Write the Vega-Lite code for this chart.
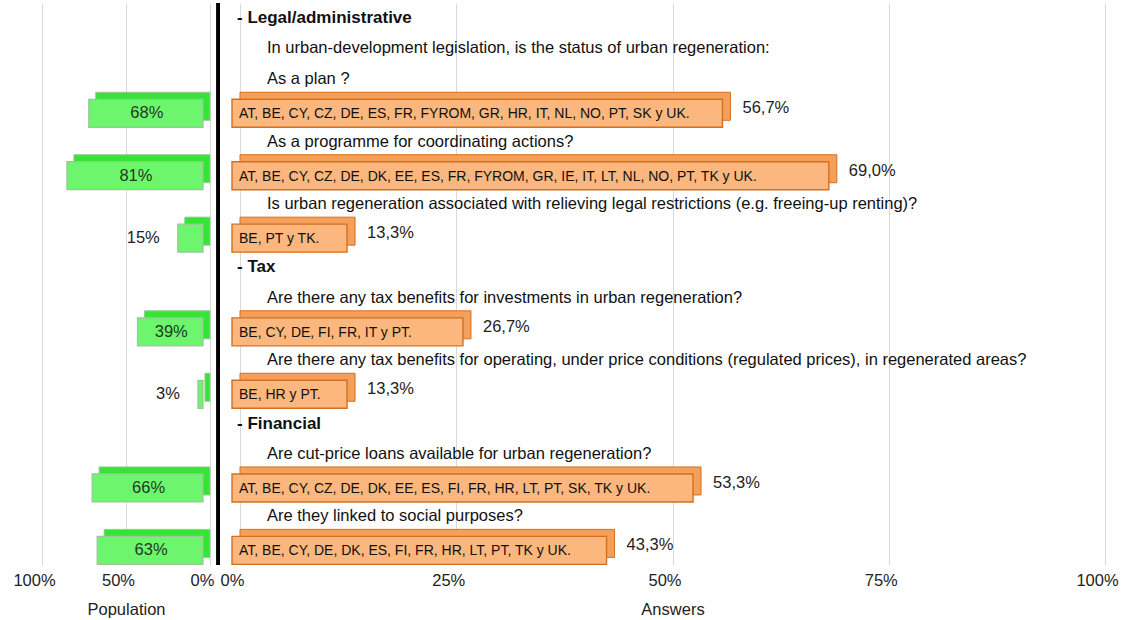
{
  "$schema": "https://vega.github.io/schema/vega-lite/v6.json",
  "background": "#ffffff",
  "padding": {"left": 12, "top": 1, "right": 5, "bottom": 5},
  "bounds": "flush",
  "config": {
    "view": {"stroke": null},
    "font": "Liberation Sans",
    "axis": {
      "domain": false,
      "ticks": false,
      "labelFlush": false,
      "labelFontSize": 16.5,
      "labelColor": "#222222",
      "labelPadding": 7,
      "titleFontSize": 16.5,
      "titleFontWeight": "normal",
      "titleColor": "#222222",
      "titlePadding": 13,
      "gridColor": "#d9d9d9",
      "gridWidth": 1
    }
  },
  "data": {
    "values": [
      {"row": 1, "kind": "header", "text": "- Legal/administrative"},
      {"row": 2, "kind": "question", "text": "In urban-development legislation, is the status of urban regeneration:"},
      {"row": 3, "kind": "question", "text": "As a plan ?"},
      {"row": 4, "kind": "bar", "pop": 68, "pop_label": "68%", "ans": 56.7, "ans_label": "56,7%", "countries": "AT, BE, CY, CZ, DE, ES, FR, FYROM, GR, HR, IT, NL, NO, PT, SK y UK."},
      {"row": 5, "kind": "question", "text": "As a programme for coordinating actions?"},
      {"row": 6, "kind": "bar", "pop": 81, "pop_label": "81%", "ans": 69.0, "ans_label": "69,0%", "countries": "AT, BE, CY, CZ, DE, DK, EE, ES, FR, FYROM, GR, IE, IT, LT, NL, NO, PT, TK y UK."},
      {"row": 7, "kind": "question", "text": "Is urban regeneration associated with relieving legal restrictions (e.g. freeing-up renting)?"},
      {"row": 8, "kind": "bar", "pop": 15, "pop_label": "15%", "ans": 13.3, "ans_label": "13,3%", "countries": "BE, PT y TK."},
      {"row": 9, "kind": "header", "text": "- Tax"},
      {"row": 10, "kind": "question", "text": "Are there any tax benefits for investments in urban regeneration?"},
      {"row": 11, "kind": "bar", "pop": 39, "pop_label": "39%", "ans": 26.7, "ans_label": "26,7%", "countries": "BE, CY, DE, FI, FR, IT y PT."},
      {"row": 12, "kind": "question", "text": "Are there any tax benefits for operating, under price conditions (regulated prices), in regenerated areas?"},
      {"row": 13, "kind": "bar", "pop": 3, "pop_label": "3%", "ans": 13.3, "ans_label": "13,3%", "countries": "BE, HR y PT."},
      {"row": 14, "kind": "header", "text": "- Financial"},
      {"row": 15, "kind": "question", "text": "Are cut-price loans available for urban regeneration?"},
      {"row": 16, "kind": "bar", "pop": 66, "pop_label": "66%", "ans": 53.3, "ans_label": "53,3%", "countries": "AT, BE, CY, CZ, DE, DK, EE, ES, FI, FR, HR, LT, PT, SK, TK y UK."},
      {"row": 17, "kind": "question", "text": "Are they linked to social purposes?"},
      {"row": 18, "kind": "bar", "pop": 63, "pop_label": "63%", "ans": 43.3, "ans_label": "43,3%", "countries": "AT, BE, CY, DE, DK, ES, FI, FR, HR, LT, PT, TK y UK."}
    ]
  },
  "spacing": 30,
  "hconcat": [
    {
      "width": 168,
      "height": 562,
      "resolve": {"scale": {"x": "independent"}},
      "layer": [
        {
          "transform": [{"filter": "datum.kind === 'bar'"}],
          "mark": {"type": "bar", "height": 28, "yOffset": -6, "y2Offset": -6, "color": "#36e436", "stroke": "#9cc49c", "strokeWidth": 1},
          "encoding": {
            "y": {"field": "row", "type": "ordinal", "scale": {"domain": [1,2,3,4,5,6,7,8,9,10,11,12,13,14,15,16,17,18], "paddingInner": 0, "paddingOuter": 0}, "axis": null},
            "x": {"field": "pop", "type": "quantitative", "scale": {"domain": [0, 100], "reverse": true},
                  "axis": {"values": [0, 50, 100], "grid": true, "labelExpr": "datum.value + '%'", "labelOffset": -8, "title": "Population"}},
            "x2": {"datum": 0}
          }
        },
        {
          "transform": [{"filter": "datum.kind === 'bar'"}],
          "mark": {"type": "bar", "height": 28, "xOffset": -7, "x2Offset": -7, "yOffset": 1, "y2Offset": 1, "color": "#6ef56e", "stroke": "#9cc49c", "strokeWidth": 1.2},
          "encoding": {
            "y": {"field": "row", "type": "ordinal"},
            "x": {"field": "pop", "type": "quantitative", "scale": {"domain": [0, 100], "reverse": true}, "axis": null},
            "x2": {"datum": 0}
          }
        },
        {
          "transform": [{"filter": "datum.kind === 'bar' && datum.pop >= 20"}],
          "mark": {"type": "text", "align": "center", "baseline": "middle", "fontSize": 16.5, "color": "#1e3a1e", "dx": -6, "dy": 1},
          "encoding": {
            "y": {"field": "row", "type": "ordinal"},
            "x": {"field": "pop", "type": "quantitative", "scale": {"domain": [0, 200], "reverse": true}, "axis": null},
            "text": {"field": "pop_label"}
          }
        },
        {
          "transform": [{"filter": "datum.kind === 'bar' && datum.pop < 20"}],
          "mark": {"type": "text", "align": "right", "baseline": "middle", "fontSize": 16.5, "color": "#222222", "dx": -25, "dy": 1},
          "encoding": {
            "y": {"field": "row", "type": "ordinal"},
            "x": {"field": "pop", "type": "quantitative", "scale": {"domain": [0, 100], "reverse": true}, "axis": null},
            "text": {"field": "pop_label"}
          }
        }
      ]
    },
    {
      "width": 865,
      "height": 562,
      "layer": [
        {
          "transform": [{"filter": "datum.kind === 'bar'"}],
          "mark": {"type": "bar", "height": 28, "yOffset": -6, "y2Offset": -6, "color": "#f5a05a", "stroke": "#d2701f", "strokeWidth": 1},
          "encoding": {
            "y": {"field": "row", "type": "ordinal", "scale": {"domain": [1,2,3,4,5,6,7,8,9,10,11,12,13,14,15,16,17,18], "paddingInner": 0, "paddingOuter": 0}, "axis": null},
            "x": {"field": "ans", "type": "quantitative", "scale": {"domain": [0, 100]},
                  "axis": {"values": [0, 25, 50, 75, 100], "grid": true, "labelExpr": "datum.value + '%'", "labelOffset": -8, "title": "Answers"}},
            "x2": {"datum": 0}
          }
        },
        {
          "mark": {"type": "rule", "strokeWidth": 3, "color": "#000000"},
          "encoding": {"x": {"datum": -2.5}}
        },
        {
          "transform": [{"filter": "datum.kind === 'bar'"}],
          "mark": {"type": "bar", "height": 28, "xOffset": -8, "x2Offset": -8, "yOffset": 1, "y2Offset": 1, "color": "#fbb77d", "stroke": "#d2701f", "strokeWidth": 1.4},
          "encoding": {
            "y": {"field": "row", "type": "ordinal"},
            "x": {"field": "ans", "type": "quantitative"},
            "x2": {"datum": 0}
          }
        },
        {
          "transform": [{"filter": "datum.kind === 'bar'"}],
          "mark": {"type": "text", "align": "left", "baseline": "middle", "fontSize": 14, "color": "#111111", "dx": -1, "dy": 2},
          "encoding": {
            "y": {"field": "row", "type": "ordinal"},
            "x": {"datum": 0},
            "text": {"field": "countries"}
          }
        },
        {
          "transform": [{"filter": "datum.kind === 'bar'"}],
          "mark": {"type": "text", "align": "left", "baseline": "middle", "fontSize": 16.5, "color": "#222222", "dx": 12, "dy": -4},
          "encoding": {
            "y": {"field": "row", "type": "ordinal"},
            "x": {"field": "ans", "type": "quantitative"},
            "text": {"field": "ans_label"}
          }
        },
        {
          "transform": [{"filter": "datum.kind === 'header'"}],
          "mark": {"type": "text", "align": "left", "baseline": "middle", "fontSize": 17, "fontWeight": "bold", "color": "#111111", "dx": -3, "dy": -1},
          "encoding": {
            "y": {"field": "row", "type": "ordinal"},
            "x": {"datum": 0},
            "text": {"field": "text"}
          }
        },
        {
          "transform": [{"filter": "datum.kind === 'question'"}],
          "mark": {"type": "text", "align": "left", "baseline": "middle", "fontSize": 16.5, "color": "#111111", "dx": 27, "dy": -2},
          "encoding": {
            "y": {"field": "row", "type": "ordinal"},
            "x": {"datum": 0},
            "text": {"field": "text"}
          }
        }
      ]
    }
  ]
}
